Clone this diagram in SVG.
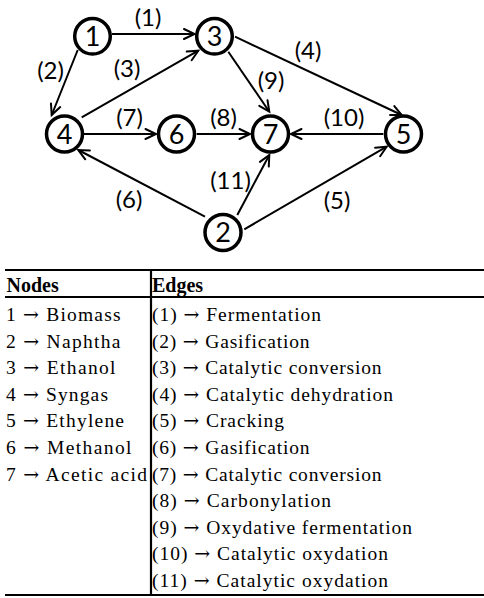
<svg xmlns="http://www.w3.org/2000/svg" width="484" height="598" viewBox="0 0 484 598">
  <defs>
    <marker id="arrow" markerUnits="userSpaceOnUse" markerWidth="16" markerHeight="16" refX="0" refY="0" viewBox="-13 -8 16 16" orient="auto" overflow="visible">
      <path d="M -10.5 -5 L 0 0 L -10.5 5" fill="none" stroke="#000" stroke-width="2" stroke-linecap="round" stroke-linejoin="miter"/>
    </marker>
  </defs>
  <style>
    .node circle { fill: #fff; stroke: #000; stroke-width: 3.5; }
    .node text { font-family: Lato, "Liberation Sans", sans-serif; font-size: 27px; text-anchor: middle; fill: #000; }
    .edge { stroke: #000; stroke-width: 2; fill: none; marker-end: url(#arrow); }
    .elabel { font-family: Lato, "Liberation Sans", sans-serif; font-size: 24px; text-anchor: middle; fill: #000; }
    .rule { stroke: #000; stroke-width: 2.2; }
    .cell { font-family: "Liberation Serif", "Times New Roman", serif; font-size: 19.5px; fill: #000; }
    .cell .ar { font-family: "DejaVu Serif", "DejaVu Sans", serif; font-size: 19px; }
    .head { font-family: "Liberation Serif", "Times New Roman", serif; font-size: 20px; font-weight: bold; fill: #000; }
  </style>

  <!-- connectors -->
  <g id="connectors">
    <line class="edge" x1="112" y1="34" x2="194.5" y2="34"/>
    <line class="edge" x1="77.7" y1="50" x2="51.7" y2="115"/>
    <line class="edge" x1="81.7" y1="117.3" x2="198.3" y2="50.7"/>
    <line class="edge" x1="235" y1="36.7" x2="401.7" y2="115"/>
    <line class="edge" x1="228.3" y1="51.7" x2="269.3" y2="111.7"/>
    <line class="edge" x1="84" y1="134" x2="156" y2="134"/>
    <line class="edge" x1="196.7" y1="134" x2="250" y2="134"/>
    <line class="edge" x1="383.3" y1="134" x2="291" y2="134"/>
    <line class="edge" x1="205" y1="216.7" x2="78.3" y2="150"/>
    <line class="edge" x1="237.3" y1="215" x2="269.3" y2="155"/>
    <line class="edge" x1="244.3" y1="229.3" x2="386.7" y2="146.7"/>

    <text class="elabel" x="148" y="26">(1)</text>
    <text class="elabel" x="50.5" y="78.5">(2)</text>
    <text class="elabel" x="127" y="77">(3)</text>
    <text class="elabel" x="308" y="59">(4)</text>
    <text class="elabel" x="337" y="209">(5)</text>
    <text class="elabel" x="129" y="207.5">(6)</text>
    <text class="elabel" x="129.5" y="126">(7)</text>
    <text class="elabel" x="223.5" y="126">(8)</text>
    <text class="elabel" x="271" y="88.5">(9)</text>
    <text class="elabel" x="344" y="126">(10)</text>
    <text class="elabel" x="230.5" y="188.5">(11)</text>
  </g>

  <!-- nodes -->
  <g id="node1" class="node"><circle cx="92.5" cy="36.3" r="17.8"/><text x="92.5" y="46">1</text></g>
  <g id="node2" class="node"><circle cx="223" cy="232.5" r="18"/><text x="223" y="242.2">2</text></g>
  <g id="node3" class="node"><circle cx="214.5" cy="36.3" r="17.8"/><text x="214.5" y="46">3</text></g>
  <g id="node4" class="node"><circle cx="64.5" cy="134" r="18"/><text x="64.5" y="143.7">4</text></g>
  <g id="node5" class="node"><circle cx="403.5" cy="134" r="18"/><text x="403.5" y="143.7">5</text></g>
  <g id="node6" class="node"><circle cx="176.5" cy="134" r="18"/><text x="176.5" y="143.7">6</text></g>
  <g id="node7" class="node"><circle cx="270.5" cy="134" r="18"/><text x="270.5" y="143.7">7</text></g>

  <!-- legend table -->
  <g id="legend">
    <line class="rule" x1="5" y1="270" x2="484" y2="270"/>
    <line class="rule" x1="5" y1="297" x2="484" y2="297"/>
    <line class="rule" x1="5" y1="595" x2="484" y2="595"/>
    <line class="rule" x1="151" y1="270" x2="151" y2="595"/>

    <text class="head" x="6.5" y="291.5">Nodes</text>
    <text class="head" x="152" y="291.5">Edges</text>

    <text class="cell" x="6" y="321" textLength="114.5" lengthAdjust="spacing">1 <tspan class="ar">→</tspan> Biomass</text>
    <text class="cell" x="6" y="347.6" textLength="114.5" lengthAdjust="spacing">2 <tspan class="ar">→</tspan> Naphtha</text>
    <text class="cell" x="6" y="374.2" textLength="109.5" lengthAdjust="spacing">3 <tspan class="ar">→</tspan> Ethanol</text>
    <text class="cell" x="6" y="400.8" textLength="102" lengthAdjust="spacing">4 <tspan class="ar">→</tspan> Syngas</text>
    <text class="cell" x="6" y="427.4" textLength="118" lengthAdjust="spacing">5 <tspan class="ar">→</tspan> Ethylene</text>
    <text class="cell" x="6" y="454" textLength="125.5" lengthAdjust="spacing">6 <tspan class="ar">→</tspan> Methanol</text>
    <text class="cell" x="6" y="480.6" textLength="141" lengthAdjust="spacing">7 <tspan class="ar">→</tspan> Acetic acid</text>

    <text class="cell" x="152" y="321" textLength="169" lengthAdjust="spacing">(1) <tspan class="ar">→</tspan> Fermentation</text>
    <text class="cell" x="152" y="347.6" textLength="157.5" lengthAdjust="spacing">(2) <tspan class="ar">→</tspan> Gasification</text>
    <text class="cell" x="152" y="374.2" textLength="229.5" lengthAdjust="spacing">(3) <tspan class="ar">→</tspan> Catalytic conversion</text>
    <text class="cell" x="152" y="400.8" textLength="241" lengthAdjust="spacing">(4) <tspan class="ar">→</tspan> Catalytic dehydration</text>
    <text class="cell" x="152" y="427.4" textLength="132" lengthAdjust="spacing">(5) <tspan class="ar">→</tspan> Cracking</text>
    <text class="cell" x="152" y="454" textLength="157.5" lengthAdjust="spacing">(6) <tspan class="ar">→</tspan> Gasification</text>
    <text class="cell" x="152" y="480.6" textLength="229.5" lengthAdjust="spacing">(7) <tspan class="ar">→</tspan> Catalytic conversion</text>
    <text class="cell" x="152" y="507.2" textLength="179" lengthAdjust="spacing">(8) <tspan class="ar">→</tspan> Carbonylation</text>
    <text class="cell" x="152" y="533.8" textLength="260" lengthAdjust="spacing">(9) <tspan class="ar">→</tspan> Oxydative fermentation</text>
    <text class="cell" x="152" y="560.4" textLength="236" lengthAdjust="spacing">(10) <tspan class="ar">→</tspan> Catalytic oxydation</text>
    <text class="cell" x="152" y="587" textLength="236" lengthAdjust="spacing">(11) <tspan class="ar">→</tspan> Catalytic oxydation</text>
  </g>
</svg>
